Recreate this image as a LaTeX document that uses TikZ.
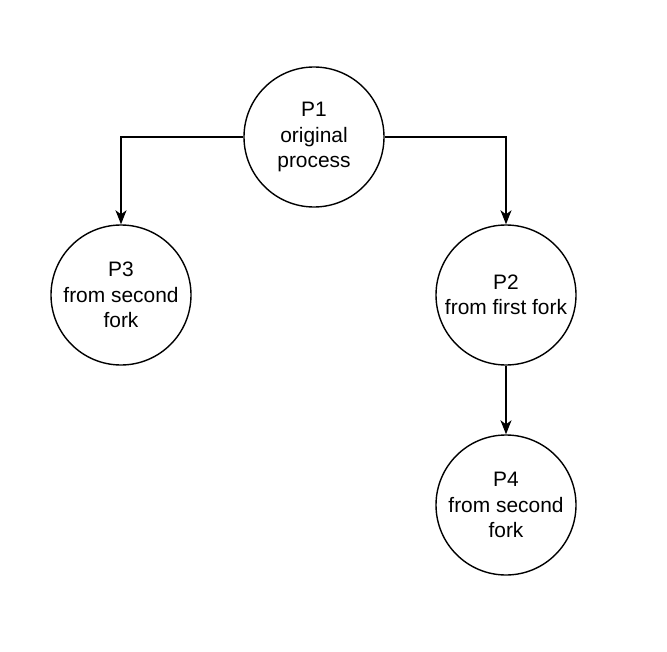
\documentclass[tikz,border=0pt]{standalone}
\usepackage{fontspec}
\setmainfont{Liberation Sans}
\usetikzlibrary{arrows.meta}
\begin{document}
\begin{tikzpicture}[x=1bp,y=-1bp,
            proc/.style={draw,circle,line width=1.4bp,minimum size=140bp,inner sep=0pt,
                align=center,font=\fontsize{21}{25.5}\selectfont},
            fork/.style={line width=1.4bp,-{Stealth[length=14bp,width=11bp,inset=4bp]}}]
            \useasboundingbox (0,0) rectangle (667,652);
            \path
            (314,137) node[proc] (P1) {P1\\original\\process} % <<< cha
            (121,295) node[proc] (P3) {P3\\from second\\fork}
            (506,295) node[proc] (P2) {P2\\from first fork}
            ++(0,210) node[proc] (P4) {P4\\from second\\fork};
            \begin{scope}[fork]
                \draw (P1.west) -| (P3.north);
                \draw (P1.east) -| (P2.north);
                \draw (P2.south) -- (P4.north);
            \end{scope}
        \end{tikzpicture}
\end{document}
